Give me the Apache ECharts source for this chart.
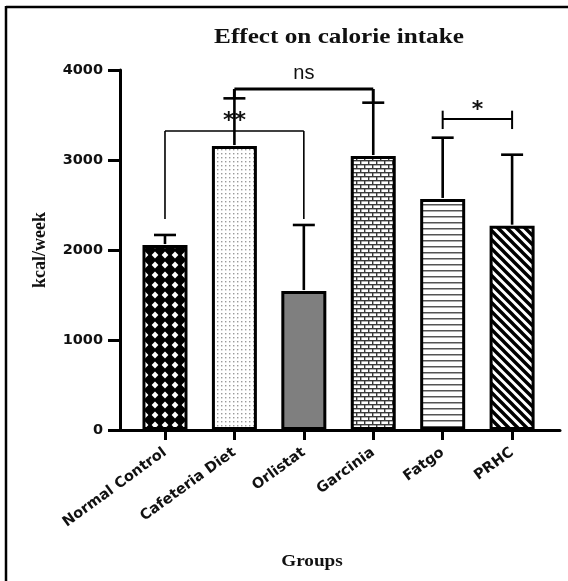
<!DOCTYPE html>
<html>
<head>
<meta charset="utf-8">
<script src="https://cdn.jsdelivr.net/npm/echarts@6/dist/echarts.min.js"></script>
<style>html,body{margin:0;padding:0;background:#fff}#c{width:568px;height:581px}</style>
</head>
<body>
<div id="c"></div>
<script>
// ---- data ----
const categories = ['Normal Control', 'Cafeteria Diet', 'Orlistat', 'Garcinia', 'Fatgo', 'PRHC'];
const meanValues = [2055, 3155, 1544, 3044, 2567, 2270];
const errorTops = [2167, 3685, 2278, 3637, 3248, 3059];
const yTickValues = [0, 1000, 2000, 3000, 4000];
// significance brackets
const bracketFrom = [0, 1, 4];
const bracketTo = [2, 3, 5];
const bracketLevel = [3322, 3789, 3455];
const bracketLegTop = [3322, 3789, 3548];
const bracketLegBottom = [2344, 3685, 3344];
const bracketRightLegBottom = [2344, 3637, 3344];
const bracketLabels = ['**', 'ns', '*'];

// ---- styles ----
const bracketWidths = [1.6, 3, 2];
const labelFonts = ['bold 22px "DejaVu Sans"', '20px "Liberation Sans"', 'bold 22px "DejaVu Sans"'];
const labelOffsets = [10, 16, 9];

function tile(w, h, draw) {
  const c = document.createElement('canvas');
  c.width = w; c.height = h;
  const g = c.getContext('2d');
  draw(g, w, h);
  return { image: c, repeat: 'repeat' };
}
const patterns = [
  // crosshatch diamonds
  tile(10, 10, (g, w, h) => {
    g.fillStyle = '#000'; g.fillRect(0, 0, w, h);
    g.fillStyle = '#fff';
    g.beginPath(); g.moveTo(5, 1.6); g.lineTo(8.4, 5); g.lineTo(5, 8.4); g.lineTo(1.6, 5); g.closePath(); g.fill();
  }),
  // dots
  tile(4, 4, (g, w, h) => {
    g.fillStyle = '#fff'; g.fillRect(0, 0, w, h);
    g.fillStyle = '#9a9a9a'; g.fillRect(1, 1, 1.4, 1.4);
  }),
  '#7f7f7f',
  // bricks
  tile(8, 8, (g, w, h) => {
    g.fillStyle = '#fff'; g.fillRect(0, 0, w, h);
    g.fillStyle = '#3a3a3a';
    g.fillRect(0, 0, 8, 1.4); g.fillRect(0, 4, 8, 1.4);
    g.fillRect(0, 0, 1.4, 4); g.fillRect(4, 4, 1.4, 4);
  }),
  // horizontal lines
  tile(6, 6, (g, w, h) => {
    g.fillStyle = '#fff'; g.fillRect(0, 0, w, h);
    g.fillStyle = '#555'; g.fillRect(0, 0, 6, 1.5);
  }),
  // diagonal stripes "\"
  tile(9, 9, (g, w, h) => {
    g.fillStyle = '#fff'; g.fillRect(0, 0, w, h);
    g.strokeStyle = '#000'; g.lineWidth = 3.4;
    g.beginPath();
    g.moveTo(-2, -2); g.lineTo(11, 11);
    g.moveTo(-2, 7); g.lineTo(2, 11);
    g.moveTo(7, -2); g.lineTo(11, 2);
    g.stroke();
  })
];

const chart = echarts.init(document.getElementById('c'), null, { renderer: 'canvas' });
const idx = categories.map((c, i) => i);

const option = {
  animation: false,
  backgroundColor: '#fff',
  grid: { left: 120, right: 8, top: 70, bottom: 151 },
  xAxis: {
    type: 'value', min: -0.648, max: 5.69,
    splitLine: { show: false },
    axisLine: { show: true, onZero: false, lineStyle: { color: '#000', width: 3 } },
    axisTick: { show: true, customValues: idx, length: 10, lineStyle: { color: '#000', width: 3 } },
    axisLabel: {
      customValues: idx, rotate: 36, margin: 21,
      formatter: v => categories[Math.round(v)] || '',
      color: '#111', fontFamily: 'DejaVu Sans', fontWeight: 'bold', fontSize: 14.5
    }
  },
  yAxis: {
    type: 'value', min: 0, max: 4000, interval: 1000,
    splitLine: { show: false },
    axisLine: { show: true, onZero: false, lineStyle: { color: '#000', width: 3 } },
    axisTick: { show: true, length: 12, lineStyle: { color: '#000', width: 3 } },
    axisLabel: { margin: 17, color: '#111', fontFamily: 'DejaVu Sans', fontWeight: 'bold', fontSize: 14.5,
      formatter: v => String(v) }
  },
  series: [
    {
      type: 'bar', barWidth: 45, z: 2,
      data: meanValues.map((v, i) => ({ value: [i, v], itemStyle: { color: patterns[i] } })),
      itemStyle: { borderColor: '#000', borderWidth: 3 }
    },
    {
      type: 'custom', z: 3,
      data: meanValues.map((v, i) => [i, v, errorTops[i]]),
      encode: { x: 0, y: [1, 2] },
      renderItem: (params, api) => {
        const x = api.value(0);
        const p1 = api.coord([x, api.value(1)]);
        const p2 = api.coord([x, api.value(2)]);
        const st = { stroke: '#000', lineWidth: 2.6 };
        return { type: 'group', children: [
          { type: 'line', shape: { x1: p1[0], y1: p1[1] - 1, x2: p2[0], y2: p2[1] }, style: st },
          { type: 'line', shape: { x1: p2[0] - 11, y1: p2[1], x2: p2[0] + 11, y2: p2[1] }, style: st }
        ] };
      }
    },
    {
      type: 'custom', z: 4,
      data: bracketFrom.map((f, i) => [f, bracketTo[i], bracketLevel[i], bracketLegTop[i], bracketLegBottom[i], bracketRightLegBottom[i], i]),
      encode: { x: [0, 1], y: [2, 3, 4, 5] },
      renderItem: (params, api) => {
        const k = api.value(6);
        const a = api.value(0), b = api.value(1);
        const lv = api.coord([a, api.value(2)]);
        const rv = api.coord([b, api.value(2)]);
        const lt = api.coord([a, api.value(3)]);
        const lb = api.coord([a, api.value(4)]);
        const rt = api.coord([b, api.value(3)]);
        const rb = api.coord([b, api.value(5)]);
        const st = { stroke: '#000', lineWidth: bracketWidths[k] };
        return { type: 'group', children: [
          { type: 'line', shape: { x1: lv[0], y1: lv[1], x2: rv[0], y2: rv[1] }, style: st },
          { type: 'line', shape: { x1: lt[0], y1: lt[1], x2: lb[0], y2: lb[1] }, style: st },
          { type: 'line', shape: { x1: rt[0], y1: rt[1], x2: rb[0], y2: rb[1] }, style: st },
          { type: 'text', style: {
              text: bracketLabels[k], x: (lv[0] + rv[0]) / 2, y: lv[1] - labelOffsets[k],
              font: labelFonts[k], fill: '#111', align: 'center', verticalAlign: 'middle',
              textAlign: 'center', textVerticalAlign: 'middle' } }
        ] };
      }
    }
  ],
  graphic: [
    { type: 'line', shape: { x1: 6, y1: 7, x2: 568, y2: 7 }, style: { stroke: '#000', lineWidth: 2.5 } },
    { type: 'line', shape: { x1: 6, y1: 6, x2: 6, y2: 581 }, style: { stroke: '#000', lineWidth: 2.5 } },
    { type: 'text', x: 339, y: 38, scaleX: 1.2,
      style: { text: 'Effect on calorie intake', font: 'bold 21px "Liberation Serif"', fill: '#111',
        align: 'center', verticalAlign: 'middle', textAlign: 'center', textVerticalAlign: 'middle' } },
    { type: 'text', x: 312, y: 562, scaleX: 1.2,
      style: { text: 'Groups', font: 'bold 16px "Liberation Serif"', fill: '#111',
        align: 'center', verticalAlign: 'middle', textAlign: 'center', textVerticalAlign: 'middle' } },
    { type: 'text', x: 40, y: 250, rotation: Math.PI / 2,
      style: { text: 'kcal/week', font: 'bold 18px "Liberation Serif"', fill: '#111',
        align: 'center', verticalAlign: 'middle', textAlign: 'center', textVerticalAlign: 'middle' } }
  ]
};
chart.setOption(option);
</script>
</body>
</html>
